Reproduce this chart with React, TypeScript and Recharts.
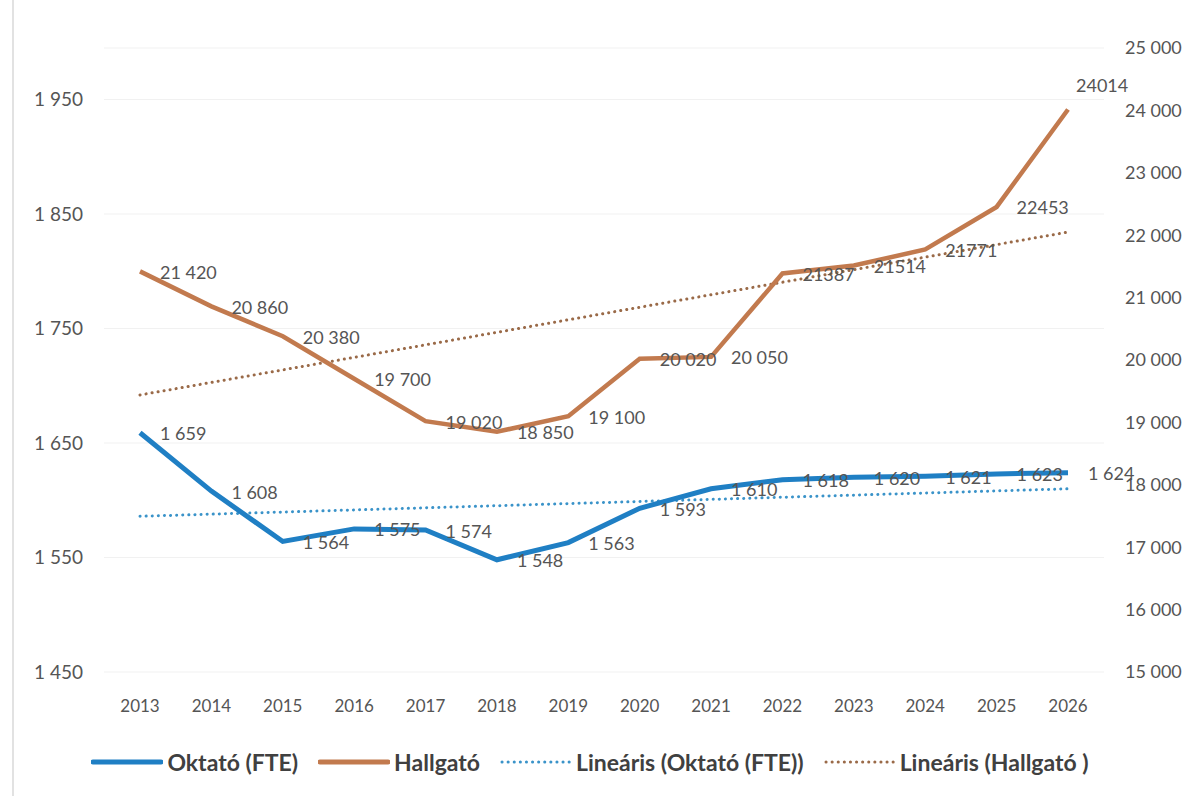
import React from 'react';
import { LineChart, Line, XAxis, YAxis, CartesianGrid, Legend, LabelList } from 'recharts';

const years = ['2013', '2014', '2015', '2016', '2017', '2018', '2019', '2020', '2021', '2022', '2023', '2024', '2025', '2026'];
const oktato = [1659, 1608, 1564, 1575, 1574, 1548, 1563, 1593, 1610, 1618, 1620, 1621, 1623, 1624];
const hallgato = [21420, 20860, 20380, 19700, 19020, 18850, 19100, 20020, 20050, 21387, 21514, 21771, 22453, 24014];
const oktatoLabels = ['1 659', '1 608', '1 564', '1 575', '1 574', '1 548', '1 563', '1 593', '1 610', '1 618', '1 620', '1 621', '1 623', '1 624'];
const hallgatoLabels = ['21 420', '20 860', '20 380', '19 700', '19 020', '18 850', '19 100', '20 020', '20 050', '21387', '21514', '21771', '22453', '24014'];
// trend line end points
const trendOktato = [1586, null, null, null, null, null, null, null, null, null, null, null, null, 1610];
const trendHallgato = [19440, null, null, null, null, null, null, null, null, null, null, null, null, 22050];

const leftTicks = [1450, 1550, 1650, 1750, 1850, 1950];
const rightTicks = [15000, 16000, 17000, 18000, 19000, 20000, 21000, 22000, 23000, 24000, 25000];

const data = years.map((y, i) => ({
  year: y,
  oktato: oktato[i],
  hallgato: hallgato[i],
  trendO: trendOktato[i],
  trendH: trendHallgato[i],
}));

const BLUE = '#1f7fc4';
const ORANGE = '#c27a4e';
const BLUE_DOT = '#3a93c9';
const BROWN_DOT = '#9a6a48';
const FONT = 'Lato, "Open Sans", sans-serif';

const fmt = (v: number) => {
  const s = String(v);
  return s.length > 3 ? s.slice(0, s.length - 3) + ' ' + s.slice(-3) : s;
};

function makeLabel(labels: string[], lastAbove: boolean) {
  return (props: any) => {
    const { x, y, index } = props;
    let dx = 20;
    let dy = 3;
    if (lastAbove && index === labels.length - 1) {
      dx = 8;
      dy = -22;
    }
    return (
      <text x={x + dx} y={y + dy} fill="#555" fontSize={18} fontFamily={FONT} dominantBaseline="middle">
        {labels[index]}
      </text>
    );
  };
}

const legendItems = [
  { name: 'Oktató (FTE)', color: BLUE, dotted: false },
  { name: 'Hallgató', color: ORANGE, dotted: false },
  { name: 'Lineáris (Oktató (FTE))', color: BLUE_DOT, dotted: true },
  { name: 'Lineáris (Hallgató )', color: BROWN_DOT, dotted: true },
];

function LegendContent() {
  return (
    <div style={{ display: 'flex', justifyContent: 'center', alignItems: 'center', paddingTop: 28, fontFamily: FONT }}>
      {legendItems.map((it) => (
        <div key={it.name} style={{ display: 'flex', alignItems: 'center', marginRight: 20 }}>
          <svg width={72} height={10} style={{ marginRight: 4 }}>
            <line
              x1={2}
              y1={5}
              x2={70}
              y2={5}
              stroke={it.color}
              strokeWidth={it.dotted ? 3 : 5}
              strokeDasharray={it.dotted ? '0.1 6' : undefined}
              strokeLinecap="round"
            />
          </svg>
          <span style={{ fontSize: 23, fontWeight: 700, color: '#404040' }}>{it.name}</span>
        </div>
      ))}
    </div>
  );
}

export default function App() {
  return (
    <div style={{ position: 'absolute', left: 0, top: 0, width: 1200, height: 796, background: '#fff' }}>
      <div style={{ position: 'absolute', left: 12, top: 0, width: 2, height: 796, background: '#e2e2e2' }} />
      <LineChart width={1200} height={796} data={data} margin={{ top: 48, right: 0, left: 0, bottom: 0 }}>
        <CartesianGrid yAxisId="left" horizontal vertical={false} stroke="#f1f1f1" />
        <XAxis
          dataKey="year"
          padding={{ left: 36, right: 36 }}
          axisLine={false}
          tickLine={false}
          tickMargin={22}
          height={48}
          tick={{ fill: '#555', fontSize: 17, fontFamily: FONT }}
          interval={0}
        />
        <YAxis
          yAxisId="left"
          domain={[1450, 1995]}
          ticks={leftTicks}
          tickFormatter={fmt}
          axisLine={false}
          tickLine={false}
          width={104}
          tickMargin={15}
          tick={{ fill: '#555', fontSize: 19, fontFamily: FONT }}
          allowDataOverflow
        />
        <YAxis
          yAxisId="right"
          orientation="right"
          domain={[15000, 25000]}
          ticks={rightTicks}
          tickFormatter={fmt}
          axisLine={false}
          tickLine={false}
          width={96}
          tickMargin={15}
          tick={{ fill: '#555', fontSize: 18, fontFamily: FONT }}
        />
        <Legend verticalAlign="bottom" height={76} content={() => <LegendContent />} />
        <Line
          yAxisId="left"
          dataKey="trendO"
          stroke={BLUE_DOT}
          strokeWidth={3}
          strokeDasharray="0.1 6"
          strokeLinecap="round"
          dot={false}
          connectNulls
          isAnimationActive={false}
        />
        <Line
          yAxisId="right"
          dataKey="trendH"
          stroke={BROWN_DOT}
          strokeWidth={3}
          strokeDasharray="0.1 6"
          strokeLinecap="round"
          dot={false}
          connectNulls
          isAnimationActive={false}
        />
        <Line yAxisId="right" dataKey="hallgato" stroke={ORANGE} strokeWidth={4.5} dot={false} isAnimationActive={false}>
          <LabelList dataKey="hallgato" content={makeLabel(hallgatoLabels, true)} />
        </Line>
        <Line yAxisId="left" dataKey="oktato" stroke={BLUE} strokeWidth={5} dot={false} isAnimationActive={false}>
          <LabelList dataKey="oktato" content={makeLabel(oktatoLabels, false)} />
        </Line>
      </LineChart>
    </div>
  );
}
